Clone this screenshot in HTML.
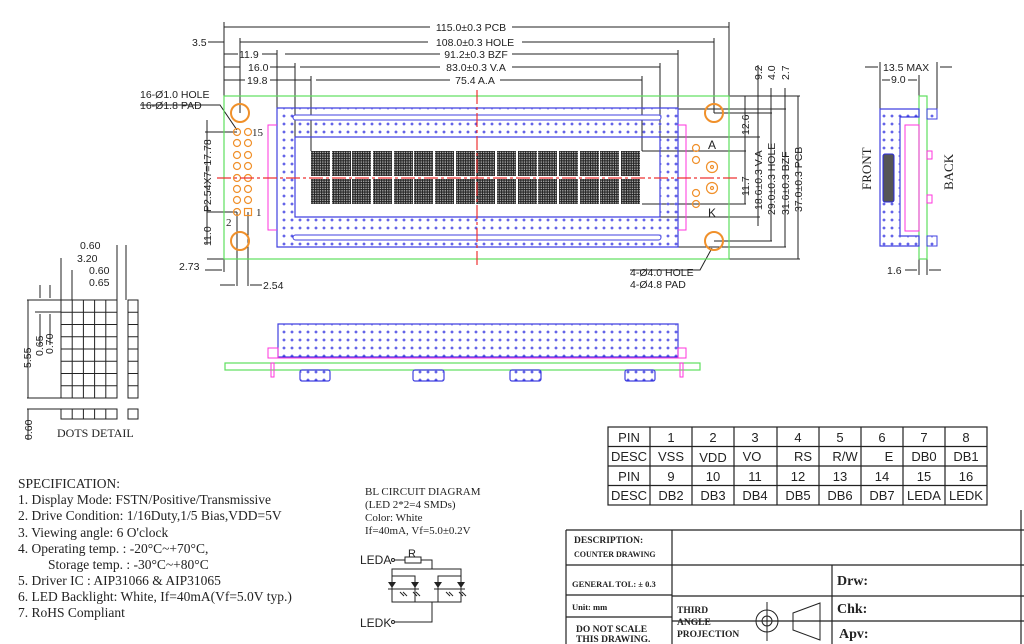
<!DOCTYPE html>
<html><head><meta charset="utf-8"><style>
html,body{margin:0;padding:0;background:#fff;}
svg{display:block;}
text{font-family:"Liberation Sans",sans-serif;fill:#222;}
text.s{font-family:"Liberation Serif",serif;}
</style></head><body>
<svg width="1024" height="644" viewBox="0 0 1024 644" xmlns="http://www.w3.org/2000/svg" font-size="10.5">
<defs>
<pattern id="dot" width="8" height="8" patternUnits="userSpaceOnUse">
<path d="M4 2.5v3M2.5 4h3" stroke="#2a2ae0" stroke-width="0.9"/>
</pattern>
<pattern id="chr" width="2.4" height="2.4" patternUnits="userSpaceOnUse">
<rect width="2.4" height="2.4" fill="#222"/><rect x="0.6" y="0.6" width="1.3" height="1.3" fill="#bbb"/>
</pattern>
</defs>

<g stroke="#222" stroke-width="1" fill="none">
<line x1="224" y1="22" x2="224" y2="96"/><line x1="729" y1="22" x2="729" y2="96"/>
<line x1="240" y1="38" x2="240" y2="113"/><line x1="714" y1="38" x2="714" y2="113"/>
<line x1="277" y1="50" x2="277" y2="108"/><line x1="678" y1="50" x2="678" y2="108"/>
<line x1="295" y1="63" x2="295" y2="137"/><line x1="660" y1="63" x2="660" y2="137"/>
<line x1="311" y1="76" x2="311" y2="151"/><line x1="642" y1="76" x2="642" y2="151"/>
<line x1="224" y1="27" x2="430" y2="27"/><line x1="512" y1="27" x2="729" y2="27"/>
<line x1="240" y1="42" x2="428" y2="42"/><line x1="522" y1="42" x2="714" y2="42"/>
<line x1="224" y1="54" x2="238" y2="54"/><line x1="262" y1="54" x2="277" y2="54"/><line x1="285" y1="54" x2="440" y2="54"/><line x1="512" y1="54" x2="678" y2="54"/>
<line x1="224" y1="67" x2="240" y2="67"/><line x1="270" y1="67" x2="295" y2="67"/><line x1="300" y1="67" x2="440" y2="67"/><line x1="512" y1="67" x2="660" y2="67"/>
<line x1="224" y1="80" x2="245" y2="80"/><line x1="270" y1="80" x2="311" y2="80"/><line x1="316" y1="80" x2="450" y2="80"/><line x1="500" y1="80" x2="642" y2="80"/>
<line x1="208" y1="42" x2="224" y2="42"/>
<line x1="205" y1="132" x2="237" y2="132"/><line x1="207" y1="212" x2="237" y2="212"/><line x1="207" y1="259" x2="224" y2="259"/>
<line x1="207" y1="120" x2="207" y2="245"/>
<line x1="224" y1="259" x2="224" y2="272"/><line x1="237" y1="212" x2="237" y2="286"/><line x1="248" y1="212" x2="248" y2="286"/>
<line x1="205" y1="270" x2="222" y2="270"/><line x1="220" y1="285" x2="235" y2="285"/><line x1="250" y1="285" x2="262" y2="285"/>
<polyline points="140,105 220,105 237,130"/>
<line x1="729" y1="96" x2="800" y2="96"/>
<line x1="714" y1="113" x2="772" y2="113"/>
<line x1="678" y1="109" x2="786" y2="109"/>
<line x1="660" y1="137" x2="760" y2="137"/>
<line x1="642" y1="151" x2="746" y2="151"/>
<line x1="642" y1="204" x2="746" y2="204"/>
<line x1="660" y1="217" x2="760" y2="217"/>
<line x1="714" y1="241" x2="772" y2="241"/>
<line x1="678" y1="247" x2="786" y2="247"/>
<line x1="729" y1="259" x2="800" y2="259"/>
<line x1="745" y1="96" x2="745" y2="204"/>
<line x1="758" y1="65" x2="758" y2="226"/>
<line x1="771" y1="88" x2="771" y2="241"/>
<line x1="785" y1="88" x2="785" y2="247"/>
<line x1="798" y1="96" x2="798" y2="259"/>
<polyline points="630,270 700,270 712,248"/>
<line x1="880" y1="62" x2="880" y2="109"/><line x1="919" y1="75" x2="919" y2="96"/><line x1="937" y1="62" x2="937" y2="109"/>
<line x1="865" y1="67" x2="878" y2="67"/><line x1="940" y1="67" x2="952" y2="67"/><line x1="882" y1="80" x2="890" y2="80"/><line x1="908" y1="80" x2="917" y2="80"/>
<line x1="919" y1="259" x2="919" y2="275"/><line x1="927" y1="259" x2="927" y2="275"/>
<line x1="905" y1="270" x2="917" y2="270"/><line x1="929" y1="270" x2="941" y2="270"/>
</g>

<g>
<text x="471" y="31" text-anchor="middle">115.0±0.3 PCB</text>
<text x="475" y="46" text-anchor="middle">108.0±0.3 HOLE</text>
<text x="476" y="58" text-anchor="middle">91.2±0.3 BZF</text>
<text x="476" y="71" text-anchor="middle">83.0±0.3 V.A</text>
<text x="475" y="84" text-anchor="middle">75.4 A.A</text>
<text x="192" y="46">3.5</text>
<text x="239" y="58">11.9</text>
<text x="248" y="71">16.0</text>
<text x="247" y="84">19.8</text>
<text x="140" y="98">16-Ø1.0 HOLE</text>
<text x="140" y="109">16-Ø1.8 PAD</text>
<text x="179" y="270">2.73</text>
<text x="263" y="289">2.54</text>
<text class="s" x="252" y="136" font-size="11">15</text>
<text class="s" x="256" y="216" font-size="11">1</text>
<text class="s" x="226" y="226" font-size="11">2</text>
<text transform="translate(211,212) rotate(-90)">P2.54X7=17.78</text>
<text transform="translate(211,246) rotate(-90)">11.0</text>
<text x="708" y="149" font-size="12">A</text>
<text x="708" y="217" font-size="12">K</text>
<text x="630" y="276">4-Ø4.0 HOLE</text>
<text x="630" y="288">4-Ø4.8 PAD</text>
<text transform="translate(749,135) rotate(-90)">12.6</text>
<text transform="translate(762,80) rotate(-90)">9.2</text>
<text transform="translate(775,80) rotate(-90)">4.0</text>
<text transform="translate(789,80) rotate(-90)">2.7</text>
<text transform="translate(749,196) rotate(-90)">11.7</text>
<text transform="translate(762,210) rotate(-90)">18.6±0.3 V.A</text>
<text transform="translate(775,215) rotate(-90)">29.0±0.3 HOLE</text>
<text transform="translate(789,215) rotate(-90)">31.6±0.3 BZF</text>
<text transform="translate(802,212) rotate(-90)">37.0±0.3 PCB</text>
<text x="883" y="71">13.5 MAX</text>
<text x="891" y="83">9.0</text>
<text x="887" y="274">1.6</text>
<text class="s" transform="translate(871,190) rotate(-90)" font-size="13">FRONT</text>
<text class="s" transform="translate(953,190) rotate(-90)" font-size="13">BACK</text>
</g>

<rect x="224" y="96" width="505" height="163" fill="none" stroke="#5de05d" stroke-width="1.2"/>
<path d="M277 108H678V247H277Z M295 137V217H660V137Z" fill="url(#dot)" fill-rule="evenodd" stroke="#4040e0" stroke-width="1.2"/>
<rect x="293" y="115" width="368" height="5" rx="2.5" fill="#fff" stroke="#4040e0"/>
<rect x="293" y="235" width="368" height="5" rx="2.5" fill="#fff" stroke="#4040e0"/>
<g fill="url(#chr)">
<rect x="311" y="151" width="19" height="25"/><rect x="332" y="151" width="19" height="25"/><rect x="352" y="151" width="19" height="25"/><rect x="373" y="151" width="19" height="25"/><rect x="394" y="151" width="19" height="25"/><rect x="414" y="151" width="19" height="25"/><rect x="435" y="151" width="19" height="25"/><rect x="456" y="151" width="19" height="25"/><rect x="476" y="151" width="19" height="25"/><rect x="497" y="151" width="19" height="25"/><rect x="518" y="151" width="19" height="25"/><rect x="538" y="151" width="19" height="25"/><rect x="559" y="151" width="19" height="25"/><rect x="580" y="151" width="19" height="25"/><rect x="600" y="151" width="19" height="25"/><rect x="621" y="151" width="19" height="25"/>
<rect x="311" y="179" width="19" height="25"/><rect x="332" y="179" width="19" height="25"/><rect x="352" y="179" width="19" height="25"/><rect x="373" y="179" width="19" height="25"/><rect x="394" y="179" width="19" height="25"/><rect x="414" y="179" width="19" height="25"/><rect x="435" y="179" width="19" height="25"/><rect x="456" y="179" width="19" height="25"/><rect x="476" y="179" width="19" height="25"/><rect x="497" y="179" width="19" height="25"/><rect x="518" y="179" width="19" height="25"/><rect x="538" y="179" width="19" height="25"/><rect x="559" y="179" width="19" height="25"/><rect x="580" y="179" width="19" height="25"/><rect x="600" y="179" width="19" height="25"/><rect x="621" y="179" width="19" height="25"/>
</g>
<g fill="none" stroke="#ff33dd" stroke-width="1">
<polyline points="277,125 268,125 268,230 277,230"/>
<polyline points="678,125 686,125 686,230 678,230"/>
</g>
<g fill="none" stroke="#f0902a" stroke-width="2">
<circle cx="240" cy="113" r="9"/><circle cx="240" cy="241" r="9"/><circle cx="714" cy="113" r="9"/><circle cx="714" cy="241" r="9"/>
</g>
<g fill="none" stroke="#f0902a" stroke-width="1.2">
<circle cx="237" cy="132" r="3.5"/><circle cx="248" cy="132" r="3.5"/>
<circle cx="237" cy="143" r="3.5"/><circle cx="248" cy="143" r="3.5"/>
<circle cx="237" cy="155" r="3.5"/><circle cx="248" cy="155" r="3.5"/>
<circle cx="237" cy="166" r="3.5"/><circle cx="248" cy="166" r="3.5"/>
<circle cx="237" cy="178" r="3.5"/><circle cx="248" cy="178" r="3.5"/>
<circle cx="237" cy="189" r="3.5"/><circle cx="248" cy="189" r="3.5"/>
<circle cx="237" cy="200" r="3.5"/><circle cx="248" cy="200" r="3.5"/>
<circle cx="237" cy="212" r="3.5"/><rect x="244.5" y="208.5" width="7" height="7"/>
<circle cx="696" cy="148" r="3.5"/><circle cx="696" cy="160" r="3.5"/><circle cx="696" cy="193" r="3.5"/><circle cx="696" cy="204" r="3.5"/>
<circle cx="712" cy="167" r="5.5"/><circle cx="712" cy="188" r="5.5"/>
<circle cx="712" cy="167" r="1.5"/><circle cx="712" cy="188" r="1.5"/>
</g>
<g stroke="#ee3333" stroke-width="1.2" stroke-dasharray="14 3 3 3">
<line x1="217" y1="178" x2="737" y2="178"/>
<line x1="477" y1="90" x2="477" y2="266"/>
</g>

<rect x="919" y="96" width="8" height="163" fill="none" stroke="#5de05d" stroke-width="1.2"/>
<path d="M880 109H919V117H900V236H919V246H880Z" fill="url(#dot)" stroke="#4040e0" stroke-width="1.2"/>
<rect x="927" y="109" width="10" height="10" fill="url(#dot)" stroke="#4040e0"/>
<rect x="927" y="236" width="10" height="10" fill="url(#dot)" stroke="#4040e0"/>
<rect x="883" y="154" width="11" height="48" rx="2" fill="#555" stroke="#2a2ae0"/>
<rect x="905" y="125" width="14" height="106" fill="none" stroke="#ff33dd"/>
<rect x="927" y="151" width="5" height="8" fill="none" stroke="#ff33dd"/>
<rect x="927" y="195" width="5" height="8" fill="none" stroke="#ff33dd"/>

<rect x="225" y="363" width="475" height="7" fill="none" stroke="#5de05d" stroke-width="1.2"/>
<path d="M278 324H678V357H278Z" fill="url(#dot)" stroke="#4040e0" stroke-width="1.2"/>
<rect x="268" y="348" width="10" height="10" fill="none" stroke="#ff33dd"/>
<rect x="678" y="348" width="8" height="10" fill="none" stroke="#ff33dd"/>
<line x1="272" y1="358" x2="686" y2="358" stroke="#ff33dd"/>
<rect x="271" y="363" width="3" height="14" fill="none" stroke="#ff33dd"/>
<rect x="680" y="363" width="3" height="14" fill="none" stroke="#ff33dd"/>
<g fill="url(#dot)" stroke="#4040e0" stroke-width="1.2">
<rect x="300" y="370" width="30" height="11" rx="2"/><rect x="413" y="370" width="31" height="11" rx="2"/><rect x="510" y="370" width="31" height="11" rx="2"/><rect x="625" y="370" width="30" height="11" rx="2"/>
</g>

<g fill="none" stroke="#222" stroke-width="1">
<rect x="61" y="300" width="56" height="98"/>
<path d="M72.2 300V398M83.4 300V398M94.6 300V398M105.8 300V398M61 312.25H117M61 324.5H117M61 336.75H117M61 349H117M61 361.25H117M61 373.5H117M61 385.75H117"/>
<rect x="128" y="300" width="10" height="98"/>
<path d="M128 312.25H138M128 324.5H138M128 336.75H138M128 349H138M128 361.25H138M128 373.5H138M128 385.75H138"/>
<rect x="61" y="409" width="56" height="10"/><path d="M72.2 409V419M83.4 409V419M94.6 409V419M105.8 409V419"/>
<rect x="128" y="409" width="10" height="10"/>
<line x1="117" y1="245" x2="117" y2="300"/><line x1="126" y1="245" x2="126" y2="300"/>
<line x1="61" y1="258" x2="61" y2="300"/><line x1="72" y1="270" x2="72" y2="300"/>
<line x1="27" y1="300" x2="61" y2="300"/><line x1="35" y1="312" x2="61" y2="312"/><line x1="27" y1="398" x2="61" y2="398"/><line x1="27" y1="409" x2="61" y2="409"/>
<line x1="28" y1="300" x2="28" y2="398"/><line x1="28" y1="409" x2="28" y2="440"/>
<line x1="40" y1="285" x2="40" y2="298"/><line x1="50" y1="285" x2="50" y2="298"/>
<line x1="40" y1="314" x2="40" y2="345"/><line x1="50" y1="314" x2="50" y2="345"/>
</g>
<text x="80" y="249">0.60</text>
<text x="77" y="262">3.20</text>
<text x="89" y="274">0.60</text>
<text x="89" y="286">0.65</text>
<text transform="translate(31,368) rotate(-90)">5.55</text>
<text transform="translate(43,356) rotate(-90)">0.65</text>
<text transform="translate(53,354) rotate(-90)">0.70</text>
<text transform="translate(32,440) rotate(-90)">0.60</text>
<text class="s" x="57" y="437" font-size="12">DOTS DETAIL</text>

<g font-size="13.5">
<text class="s" x="18" y="488">SPECIFICATION:</text>
<text class="s" x="18" y="504">1. Display Mode: FSTN/Positive/Transmissive</text>
<text class="s" x="18" y="520">2. Drive Condition: 1/16Duty,1/5 Bias,VDD=5V</text>
<text class="s" x="18" y="537">3. Viewing angle: 6 O'clock</text>
<text class="s" x="18" y="553">4. Operating temp. : -20°C~+70°C,</text>
<text class="s" x="48" y="569">Storage temp. : -30°C~+80°C</text>
<text class="s" x="18" y="585">5. Driver IC : AIP31066 &amp; AIP31065</text>
<text class="s" x="18" y="601">6. LED Backlight: White, If=40mA(Vf=5.0V typ.)</text>
<text class="s" x="18" y="617">7. RoHS Compliant</text>
</g>

<g font-size="11">
<text class="s" x="365" y="495">BL CIRCUIT DIAGRAM</text>
<text class="s" x="365" y="508">(LED   2*2=4 SMDs)</text>
<text class="s" x="365" y="521">Color: White</text>
<text class="s" x="365" y="534">If=40mA, Vf=5.0±0.2V</text>
</g>
<text x="360" y="564" font-size="12">LEDA</text>
<text x="408" y="557" font-size="11">R</text>
<text x="360" y="627" font-size="12">LEDK</text>
<g fill="none" stroke="#222" stroke-width="1">
<circle cx="393" cy="560" r="1.5"/><line x1="395" y1="560" x2="405" y2="560"/>
<rect x="405" y="557" width="16" height="6"/>
<polyline points="421,560 432,560 432,569"/>
<rect x="392" y="569" width="69" height="33"/>
<rect x="392" y="576" width="23" height="26"/><rect x="438" y="576" width="23" height="26"/>
<line x1="388" y1="589" x2="419" y2="589"/><line x1="434" y1="589" x2="465" y2="589"/>
<polyline points="432,602 432,622 395,622"/><circle cx="393" cy="622" r="1.5"/>
<path d="M400 592l4 4M403 592l4 4M413 592l4 4M416 592l4 4M446 592l4 4M449 592l4 4M459 592l4 4M462 592l4 4"/>
</g>
<g fill="#222"><path d="M388 582h8l-4 6z"/><path d="M411 582h8l-4 6z"/><path d="M434 582h8l-4 6z"/><path d="M457 582h8l-4 6z"/></g>

<g fill="none" stroke="#222" stroke-width="1.2">
<rect x="608" y="427" width="379" height="78"/>
<path d="M608 446.5H987M608 466H987M608 485.5H987M650 427V505M692 427V505M734 427V505M777 427V505M819 427V505M861 427V505M903 427V505M945 427V505"/>
</g>
<g font-size="13" text-anchor="middle">
<text x="629" y="442">PIN</text><text x="671" y="442">1</text><text x="713" y="442">2</text><text x="755" y="442">3</text><text x="798" y="442">4</text><text x="840" y="442">5</text><text x="882" y="442">6</text><text x="924" y="442">7</text><text x="966" y="442">8</text>
<text x="629" y="461">DESC</text><text x="671" y="461">VSS</text><text x="713" y="462">VDD</text><text x="752" y="461">VO</text><text x="803" y="461">RS</text><text x="845" y="461">R/W</text><text x="889" y="461">E</text><text x="924" y="461">DB0</text><text x="966" y="461">DB1</text>
<text x="629" y="481">PIN</text><text x="671" y="481">9</text><text x="713" y="481">10</text><text x="755" y="481">11</text><text x="798" y="481">12</text><text x="840" y="481">13</text><text x="882" y="481">14</text><text x="924" y="481">15</text><text x="966" y="481">16</text>
<text x="629" y="500">DESC</text><text x="671" y="500">DB2</text><text x="713" y="500">DB3</text><text x="755" y="500">DB4</text><text x="798" y="500">DB5</text><text x="840" y="500">DB6</text><text x="882" y="500">DB7</text><text x="924" y="500">LEDA</text><text x="966" y="500">LEDK</text>
</g>

<g fill="none" stroke="#222" stroke-width="1.2">
<line x1="1021" y1="510" x2="1021" y2="644"/>
<path d="M566 530H1024M566 530V644M672 530V644M566 565H1024M566 595H672M672 596H1024M566 617H672M672 621H1024M832 565V644"/>
</g>
<g fill="none" stroke="#222" stroke-width="1">
<circle cx="767" cy="621" r="11"/><circle cx="767" cy="621" r="5"/>
<line x1="745" y1="621" x2="828" y2="621"/><line x1="767" y1="602" x2="767" y2="641"/>
<path d="M793 613L820 603V640L793 630Z"/>
</g>
<g font-weight="bold">
<text class="s" x="574" y="543" font-size="9.5">DESCRIPTION:</text>
<text class="s" x="574" y="557" font-size="8">COUNTER DRAWING</text>
<text class="s" x="572" y="587" font-size="8.5">GENERAL TOL: ± 0.3</text>
<text class="s" x="572" y="610" font-size="8.5">Unit: mm</text>
<text class="s" x="576" y="632" font-size="9.5">DO NOT SCALE</text>
<text class="s" x="576" y="642" font-size="9.5">THIS DRAWING.</text>
<text class="s" x="677" y="613" font-size="9.5">THIRD</text>
<text class="s" x="677" y="625" font-size="9.5">ANGLE</text>
<text class="s" x="677" y="637" font-size="9.5">PROJECTION</text>
<text class="s" x="837" y="585" font-size="14">Drw:</text>
<text class="s" x="837" y="613" font-size="14">Chk:</text>
<text class="s" x="839" y="638" font-size="14">Apv:</text>
</g>
</svg>
</body></html>
